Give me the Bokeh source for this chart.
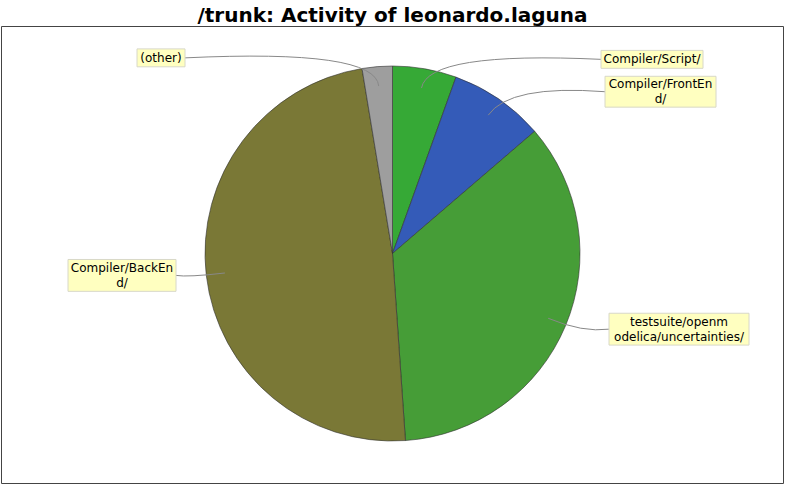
import numpy as np
from bokeh.plotting import figure
from bokeh.models import Range1d, ColumnDataSource
from bokeh.embed import file_html
from bokeh.resources import INLINE
from bokeh.core.properties import value

# ---- data ----
categories = ["Compiler/Script/", "Compiler/FrontEnd/",
              "testsuite/openmodelica/uncertainties/", "Compiler/BackEnd/", "(other)"]
label_texts = ["Compiler/Script/", "Compiler/FrontEn\nd/",
               "testsuite/openm\nodelica/uncertainties/", "Compiler/BackEn\nd/", "(other)"]
shares = [5.5, 8.2, 35.2, 48.5, 2.6]
colors = ["#36a936", "#345bb8", "#469d37", "#7a7836", "#9e9e9e"]

# ---- layout (reference pixel space, y measured downward from page top) ----
W, H = 784, 484
TOP = 24
CX, CY, R = 400.0, 260.0, 187.5
# label boxes: left, right, top, bottom ; link side ('L' = link enters left edge)
boxes = [
    (608.5, 710.5, 56.0, 74.0, "L"),
    (612.5, 723.5, 82.0, 113.0, "L"),
    (616.5, 756.5, 320.0, 352.0, "L"),
    (75.5, 183.5, 266.0, 298.0, "R"),
    (144.5, 192.5, 54.5, 72.5, "R"),
]

def fy(y):
    return 500.0 - y

p = figure(width=W, height=H, output_backend="svg", toolbar_location=None,
           x_range=Range1d(9, 791), y_range=Range1d(9, 500 - 8 - TOP),
           min_border_left=1, min_border_right=1, min_border_bottom=1,
           min_border_top=TOP, x_axis_type=None, y_axis_type=None,
           title="/trunk: Activity of leonardo.laguna")
p.grid.visible = False
p.outline_line_color = "#444444"
p.outline_line_width = 1
p.background_fill_color = "white"
p.border_fill_color = "white"
p.title.align = "center"
p.title.text_font = "DejaVu Sans"
p.title.text_font_style = "bold"
p.title.text_font_size = "20px"
p.title.text_color = "#000000"
p.title.standoff = 0
p.title.offset = 0

vals = np.array(shares, dtype=float)
frac = vals / vals.sum()
cum_end = np.cumsum(frac)
cum_start = cum_end - frac
# clockwise from 12 o'clock
start_angle = np.pi / 2 - cum_end * 2 * np.pi
end_angle = np.pi / 2 - cum_start * 2 * np.pi
src = ColumnDataSource(dict(cat=categories, start=start_angle, end=end_angle, color=colors))
p.wedge(x=CX, y=fy(CY), radius=R, start_angle="start", end_angle="end",
        fill_color="color", line_color="#333333", line_width=0.6, source=src)

# label links
mid = (cum_start + cum_end) / 2 * 2 * np.pi  # clockwise from top
ax = CX + 0.9 * R * np.sin(mid)
ay = fy(CY) + 0.9 * R * np.cos(mid)
ex = CX + 1.1 * R * np.sin(mid)
ey = fy(CY) + 1.1 * R * np.cos(mid)
lx, ly = [], []
for (l, r, t, b, side) in boxes:
    lx.append(l if side == "L" else r)
    ly.append(fy((t + b) / 2))
p.quadratic(x0=list(ax), y0=list(ay), x1=lx, y1=ly, cx=list(ex), cy=list(ey),
            line_color="#888888", line_width=1)

# label boxes
p.quad(left=[b[0] for b in boxes], right=[b[1] for b in boxes],
       top=[fy(b[2]) for b in boxes], bottom=[fy(b[3]) for b in boxes],
       fill_color="#ffffc0", line_color="#d8d8c8", line_width=1)
p.text(x=[(b[0] + b[1]) / 2 for b in boxes], y=[fy((b[2] + b[3]) / 2) for b in boxes],
       text=label_texts, text_align="center", text_baseline="middle",
       text_font=value("DejaVu Sans"), text_font_size="12px", text_color="#000000",
       text_line_height=1.05)

open("out.html", "w").write(file_html(p, INLINE))
